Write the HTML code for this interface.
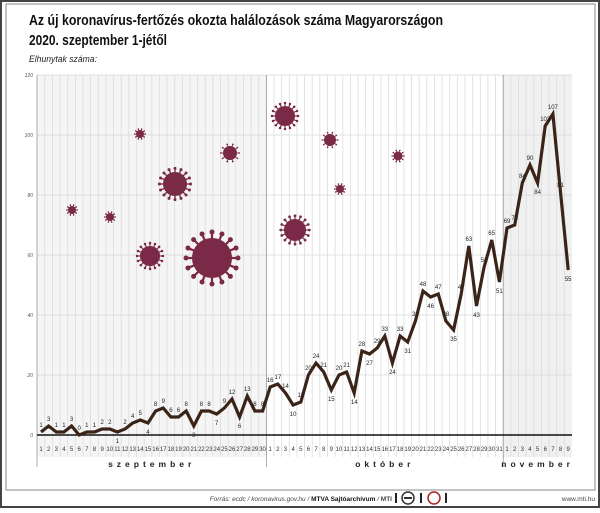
<!DOCTYPE html>
<html><head><meta charset="utf-8"><style>
body{margin:0;background:#fff;}
svg text{font-family:"Liberation Sans",sans-serif;}
</style></head><body>
<svg id="s" width="600" height="508" xmlns="http://www.w3.org/2000/svg">
<rect x="0" y="0" width="600" height="508" fill="#fff"/>
<rect x="1" y="1" width="598" height="506" fill="none" stroke="#444" stroke-width="2"/>
<rect x="6" y="4" width="589" height="486" fill="#fff" stroke="#888" stroke-width="1"/>
<text x="29" y="25" font-size="14.5" font-weight="bold" fill="#111" textLength="414" lengthAdjust="spacingAndGlyphs">Az új koronavírus-fertőzés okozta halálozások száma Magyarországon</text>
<text x="29" y="45" font-size="14.5" font-weight="bold" fill="#111" textLength="138" lengthAdjust="spacingAndGlyphs">2020. szeptember 1-jétől</text>
<text x="29" y="62" font-size="9.5" font-style="italic" fill="#222" textLength="68" lengthAdjust="spacingAndGlyphs">Elhunytak száma:</text>
<g id="plot"></g>
<text x="392" y="501" font-size="6.5" font-style="italic" fill="#444" text-anchor="end">Forrás: ecdc / koronavirus.gov.hu / <tspan font-weight="bold" font-style="normal" fill="#111">MTVA Sajtóarchívum</tspan> / <tspan font-weight="bold" font-style="normal">MTI</tspan></text>
<rect x="395" y="493" width="2" height="10" fill="#222"/>
<circle cx="408" cy="498" r="6" fill="none" stroke="#333" stroke-width="1.5"/>
<rect x="404" y="497" width="8" height="2" fill="#333"/>
<rect x="420" y="493" width="2" height="10" fill="#222"/>
<circle cx="434" cy="498" r="6" fill="none" stroke="#a22" stroke-width="1.5"/>
<rect x="445" y="493" width="2" height="10" fill="#222"/>
<text x="595" y="501" font-size="6.5" fill="#444" text-anchor="end">www.mti.hu</text>
</svg>
<script>
var d=[1,3,1,1,3,0,1,1,2,2,1,2,4,5,4,8,9,6,6,8,3,8,8,7,9,12,6,13,8,8,
16,17,14,10,11,20,24,21,15,20,21,14,28,27,29,33,24,33,31,38,48,46,47,38,35,47,63,43,56,65,51,
69,70,84,90,84,103,107,81,55];
var X0=41,DX=7.64,Y0=435,K=3;
function X(i){return X0+i*DX;}
var h='';
var xl=37,xr=572,sep=X(29.5),oct=X(60.5);
h+='<rect x="'+xl+'" y="75" width="'+(sep-xl)+'" height="382" fill="#f5f5f5"/>';
h+='<rect x="'+oct+'" y="75" width="'+(xr-oct)+'" height="382" fill="#f0f0f0"/>';
for(var i=0;i<70;i++){var x=X(i)+DX/2; if(i<69) h+='<line x1="'+x+'" y1="75" x2="'+x+'" y2="457" stroke="#dcdcdc" stroke-width="0.8"/>';}
for(var v=20;v<=120;v+=20){var y=Y0-v*K;h+='<line x1="'+xl+'" y1="'+y+'" x2="'+xr+'" y2="'+y+'" stroke="#d8d8d8" stroke-width="0.8"/>';}
for(var v=0;v<=120;v+=20){h+='<text x="33" y="'+(Y0-v*K+2)+'" font-size="5" fill="#555" text-anchor="end" font-style="italic">'+v+'</text>';}
h+='<line x1="'+xl+'" y1="75" x2="'+xl+'" y2="467" stroke="#999" stroke-width="0.8"/>';
h+='<line x1="'+sep+'" y1="75" x2="'+sep+'" y2="467" stroke="#999" stroke-width="0.8"/>';
h+='<line x1="'+oct+'" y1="75" x2="'+oct+'" y2="467" stroke="#999" stroke-width="0.8"/>';
h+='<line x1="'+xl+'" y1="'+Y0+'" x2="'+xr+'" y2="'+Y0+'" stroke="#111" stroke-width="1.5"/>';
var vs=[[72,210,4],[110,217,4],[140,134,4],[175,184,12],[150,256,10],[212,258,20],[230,153,7],[285,116,10],[295,230,11],[330,140,6],[340,189,4],[398,156,4.5]];
vs.forEach(function(c){var cx=c[0],cy=c[1],r=c[2];var n=r>8?16:10;
for(var k=0;k<n;k++){var a=k*2*Math.PI/n;var x2=cx+Math.cos(a)*r*1.3,y2=cy+Math.sin(a)*r*1.3;
h+='<line x1="'+cx+'" y1="'+cy+'" x2="'+x2+'" y2="'+y2+'" stroke="#7a2946" stroke-width="'+Math.max(0.8,r/9)+'"/>';
h+='<circle cx="'+x2+'" cy="'+y2+'" r="'+Math.max(0.8,r/8)+'" fill="#7a2946"/>';}
h+='<circle cx="'+cx+'" cy="'+cy+'" r="'+r+'" fill="#7a2946"/>';});
var p='';d.forEach(function(v,i){p+=(i?'L':'M')+X(i).toFixed(1)+' '+(Y0-v*K);});
h+='<path d="'+p+'" fill="none" stroke="#3a2418" stroke-width="3.2" stroke-linejoin="miter"/>';
d.forEach(function(v,i){var pr=i>0?d[i-1]:v,nx=i<69?d[i+1]:v;var below=(i>0&&v<pr&&v<nx&&v>0)||i==69;
var y=Y0-v*K+(below?11:-5);h+='<text x="'+X(i)+'" y="'+y+'" font-size="6" fill="#222" text-anchor="middle">'+v+'</text>';});
var dl=[];for(var i=1;i<=30;i++)dl.push(i);for(var i=1;i<=31;i++)dl.push(i);for(var i=1;i<=9;i++)dl.push(i);
dl.forEach(function(n,i){h+='<text x="'+X(i)+'" y="451" font-size="6" fill="#333" text-anchor="middle">'+n+'</text>';});
h+='<text x="'+(xl+sep)/2+'" y="467" font-size="8.5" font-weight="bold" fill="#222" text-anchor="middle" letter-spacing="4">szeptember</text>';
h+='<text x="'+(sep+oct)/2+'" y="467" font-size="8.5" font-weight="bold" fill="#222" text-anchor="middle" letter-spacing="4">október</text>';
h+='<text x="'+(oct+xr)/2+'" y="467" font-size="8.5" font-weight="bold" fill="#222" text-anchor="middle" letter-spacing="4">november</text>';
document.getElementById('plot').innerHTML=h;
</script>
</body></html>
